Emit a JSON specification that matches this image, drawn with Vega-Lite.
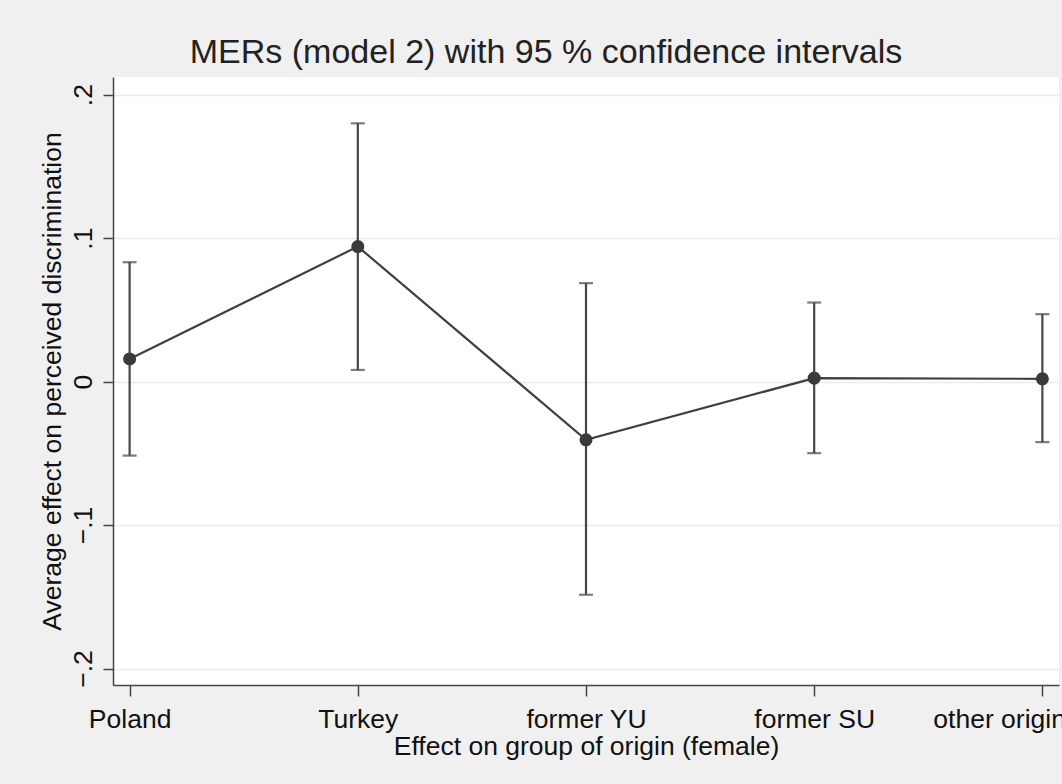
{
  "$schema": "https://vega.github.io/schema/vega-lite/v6.json",
  "width": 946,
  "height": 608,
  "autosize": {"type": "none"},
  "padding": {"left": 113, "top": 77, "right": 3, "bottom": 99},
  "background": "#f0f0f0",
  "config": {
    "view": {"stroke": null, "fill": "white"},
    "font": "Liberation Sans"
  },
  "title": {
    "text": "MERs (model 2) with 95 % confidence intervals",
    "fontSize": 34,
    "fontWeight": "normal",
    "color": "#222222",
    "anchor": "middle",
    "dx": -40,
    "offset": 7
  },
  "data": {
    "values": [
      {"group": "Poland", "est": 0.0158, "lo": -0.0516, "hi": 0.0832},
      {"group": "Turkey", "est": 0.0941, "lo": 0.0081, "hi": 0.180},
      {"group": "former YU", "est": -0.0406, "lo": -0.1486, "hi": 0.0686},
      {"group": "former SU", "est": 0.0024, "lo": -0.0499, "hi": 0.0551},
      {"group": "other origin", "est": 0.0019, "lo": -0.0422, "hi": 0.047}
    ]
  },
  "encoding": {
    "x": {
      "field": "group",
      "type": "nominal",
      "sort": ["Poland", "Turkey", "former YU", "former SU", "other origin"],
      "scale": {"type": "point", "padding": 0.0728},
      "axis": {
        "title": "Effect on group of origin (female)",
        "titleFontSize": 26.5,
        "titleFontWeight": "normal",
        "titleColor": "#111111",
        "titlePadding": 1,
        "labelFontSize": 26.5,
        "labelColor": "#111111",
        "labelAngle": 0,
        "labelPadding": 10,
        "labelOverlap": false,
        "labelBound": false,
        "labelAlign": {"condition": {"test": "datum.value === 'other origin'", "value": "right"}, "value": "center"},
        "labelOffset": {"condition": {"test": "datum.value === 'other origin'", "value": 23}, "value": 0},
        "tickSize": 11,
        "tickWidth": 1.5,
        "tickColor": "#444444",
        "domainColor": "#444444",
        "domainWidth": 1.5,
        "grid": false
      }
    }
  },
  "layer": [
    {
      "mark": {"type": "rule", "color": "#464646", "strokeWidth": 2.2},
      "encoding": {
        "y": {
          "field": "lo",
          "type": "quantitative",
          "scale": {"domain": [-0.2115, 0.2123], "nice": false, "zero": false},
          "axis": {
            "title": "Average effect on perceived discrimination",
            "values": [-0.2, -0.1, 0, 0.1, 0.2],
            "labelExpr": "replace(format(datum.value, '.1~f'), '0.', '.')",
            "labelAngle": 270,
            "labelAlign": "center",
            "labelBaseline": "alphabetic",
            "labelPadding": 12,
            "labelFontSize": 26.5,
            "labelColor": "#111111",
            "titleFontSize": 26.5,
            "titleFontWeight": "normal",
            "titleColor": "#111111",
            "titlePadding": 4,
            "tickSize": 10,
            "tickWidth": 1.5,
            "tickColor": "#444444",
            "domainColor": "#444444",
            "domainWidth": 1.5,
            "grid": true,
            "gridColor": "#ebebeb",
            "gridWidth": 1.5
          }
        },
        "y2": {"field": "hi"}
      }
    },
    {
      "mark": {"type": "tick", "orient": "horizontal", "color": "#464646", "size": 14, "thickness": 2.2},
      "encoding": {"y": {"field": "lo", "type": "quantitative"}}
    },
    {
      "mark": {"type": "tick", "orient": "horizontal", "color": "#464646", "size": 14, "thickness": 2.2},
      "encoding": {"y": {"field": "hi", "type": "quantitative"}}
    },
    {
      "mark": {"type": "line", "color": "#404040", "strokeWidth": 2.2},
      "encoding": {"y": {"field": "est", "type": "quantitative"}}
    },
    {
      "mark": {"type": "point", "filled": true, "opacity": 1, "color": "#3a3a3a", "size": 170},
      "encoding": {"y": {"field": "est", "type": "quantitative"}}
    }
  ]
}
